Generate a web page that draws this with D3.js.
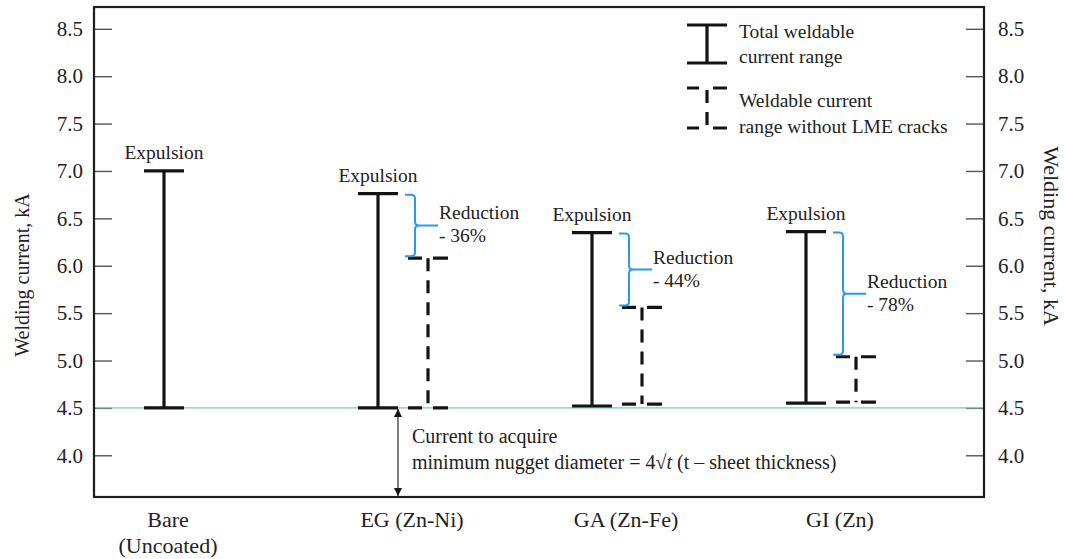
<!DOCTYPE html>
<html>
<head>
<meta charset="utf-8">
<script src="https://cdn.jsdelivr.net/npm/d3@7"></script>
<style>
  html, body { margin: 0; padding: 0; background: #fff; }
  svg { display: block; font-family: "Liberation Serif", "Times New Roman", serif; }
</style>
</head>
<body>
<svg id="chart" width="1065" height="559"></svg>
<script>
// Coating types and their labels under the axis
const categories = ["Bare", "EG", "GA", "GI"];
const categoryLabels = [["Bare", "(Uncoated)"], ["EG (Zn-Ni)"], ["GA (Zn-Fe)"], ["GI (Zn)"]];

// Total weldable current range (kA)
const totalLow  = [4.5, 4.5, 4.52, 4.55];
const totalHigh = [7.0, 6.76, 6.35, 6.36];

// Weldable current range without LME cracks (kA)
const lmeLow  = [null, 4.5, 4.54, 4.56];
const lmeHigh = [null, 6.08, 5.56, 5.04];

// Reduction of the range caused by LME (%)
const reductionPct = [null, 36, 44, 78];

// Current needed for the minimum nugget diameter (kA)
const minNuggetCurrent = 4.5;

const yTicks = [4.0, 4.5, 5.0, 5.5, 6.0, 6.5, 7.0, 7.5, 8.0, 8.5];

const svg = d3.select("#chart");
const frame = { left: 94, right: 984, top: 7, bottom: 497 };
const ink = "#141414";
const textColor = "#222";
const blue = "#2b9be8";

const y = d3.scaleLinear().domain([3.56, 8.73]).range([frame.bottom, frame.top]);
const x = d3.scalePoint().domain(categories).range([164, 806]);
const pairOffset = 50;   // horizontal gap between the two range bars of a coating
const capHalf = 20;

// axes with inward ticks
const fmt = d3.format(".1f");
const leftAxis = svg.append("g")
  .attr("transform", `translate(${frame.left},0)`)
  .call(d3.axisLeft(y).tickValues(yTicks).tickSize(-18).tickPadding(11).tickFormat(fmt));
const rightAxis = svg.append("g")
  .attr("transform", `translate(${frame.right},0)`)
  .call(d3.axisRight(y).tickValues(yTicks).tickSize(-18).tickPadding(14).tickFormat(fmt));
[leftAxis, rightAxis].forEach(g => {
  g.select(".domain").remove();
  g.selectAll(".tick line").attr("stroke", "#555").attr("stroke-width", 1.4);
  g.selectAll(".tick text")
    .attr("fill", textColor)
    .style("font-family", '"Liberation Serif", "Times New Roman", serif')
    .style("font-size", "21px");
});

// axis titles
svg.append("text")
  .attr("transform", `translate(29,${275}) rotate(-90)`)
  .attr("text-anchor", "middle")
  .attr("fill", textColor)
  .style("font-size", "20px")
  .text("Welding current, kA");
svg.append("text")
  .attr("transform", `translate(1044,${236}) rotate(90)`)
  .attr("text-anchor", "middle")
  .attr("fill", textColor)
  .style("font-size", "22px")
  .text("Welding current, kA");

// minimum nugget current reference line
svg.append("line")
  .attr("x1", frame.left).attr("x2", frame.right)
  .attr("y1", y(minNuggetCurrent)).attr("y2", y(minNuggetCurrent))
  .attr("stroke", "#7cc0ec").attr("stroke-width", 1.3);

// plot frame
svg.append("rect")
  .attr("x", frame.left).attr("y", frame.top)
  .attr("width", frame.right - frame.left).attr("height", frame.bottom - frame.top)
  .attr("fill", "none").attr("stroke", "#1c1c1c").attr("stroke-width", 2.2);

// I-shaped range bar, solid or dashed
function rangeBar(g, cx, lo, hi, dashed) {
  const bar = g.append("g").attr("stroke", ink).attr("stroke-width", 3.2).attr("fill", "none");
  bar.append("line")
    .attr("x1", cx).attr("x2", cx).attr("y1", y(hi)).attr("y2", y(lo))
    .attr("stroke-dasharray", dashed ? "13,9" : null);
  [hi, lo].forEach(v => {
    bar.append("line")
      .attr("x1", cx - capHalf).attr("x2", cx + capHalf)
      .attr("y1", y(v)).attr("y2", y(v))
      .attr("stroke-dasharray", dashed ? "14,11,15" : null);
  });
}

const bars = svg.append("g");
categories.forEach((c, i) => {
  const cx = x(c);
  rangeBar(bars, cx, totalLow[i], totalHigh[i], false);
  svg.append("text")
    .attr("x", cx).attr("y", y(totalHigh[i]) - 12)
    .attr("text-anchor", "middle").attr("fill", textColor)
    .style("font-size", "19.5px")
    .text("Expulsion");

  if (lmeHigh[i] != null) {
    const dx = cx + pairOffset;
    rangeBar(bars, dx, lmeLow[i], lmeHigh[i], true);

    // brace spanning the lost part of the range
    const y1 = y(totalHigh[i]) + 1, y2 = y(lmeHigh[i]) - 2, ym = (y1 + y2) / 2;
    const tip = dx - 23, vx = dx - 13, end = dx + 10, r = 4;
    const p = d3.path();
    p.moveTo(tip, y1);
    p.lineTo(vx - r, y1);
    p.quadraticCurveTo(vx, y1, vx, y1 + r);
    p.lineTo(vx, ym - r);
    p.quadraticCurveTo(vx, ym, vx + r, ym);
    p.lineTo(end, ym);
    p.moveTo(vx + r, ym);
    p.quadraticCurveTo(vx, ym, vx, ym + r);
    p.lineTo(vx, y2 - r);
    p.quadraticCurveTo(vx, y2, vx - r, y2);
    p.lineTo(tip, y2);
    svg.append("path").attr("d", p.toString())
      .attr("fill", "none").attr("stroke", blue).attr("stroke-width", 2);

    const t = svg.append("text").attr("fill", textColor).style("font-size", "19.5px");
    t.append("tspan").attr("x", end + 1).attr("y", ym - 6).text("Reduction");
    t.append("tspan").attr("x", end + 1).attr("y", ym + 17).text(`- ${reductionPct[i]}%`);
  }

  // category label
  const lx = lmeHigh[i] != null ? cx + pairOffset * 0.68 : cx + 4;
  const lt = svg.append("text").attr("text-anchor", "middle").attr("fill", textColor)
    .style("font-size", "22px");
  categoryLabels[i].forEach((s, k) => {
    lt.append("tspan").attr("x", lx).attr("y", 527 + k * 26).text(s);
  });
});

// double arrow from the axis floor up to the minimum nugget current
const defs = svg.append("defs");
defs.append("marker")
  .attr("id", "head").attr("viewBox", "0 0 10 10")
  .attr("refX", 10).attr("refY", 5)
  .attr("markerWidth", 8).attr("markerHeight", 8)
  .attr("markerUnits", "userSpaceOnUse")
  .attr("orient", "auto-start-reverse")
  .append("path").attr("d", "M0,0 L10,5 L0,10 z").attr("fill", ink);

const arrowX = x("EG") + 20;
svg.append("line")
  .attr("x1", arrowX).attr("x2", arrowX)
  .attr("y1", y(minNuggetCurrent) + 1).attr("y2", frame.bottom - 1)
  .attr("stroke", ink).attr("stroke-width", 1.1)
  .attr("marker-start", "url(#head)").attr("marker-end", "url(#head)");

const note = svg.append("text").attr("fill", textColor).style("font-size", "20px");
note.append("tspan").attr("x", arrowX + 14).attr("y", 443).text("Current to acquire");
const line2 = note.append("tspan").attr("x", arrowX + 14).attr("y", 469);
line2.append("tspan").text("minimum nugget diameter = 4\u221A");
line2.append("tspan").style("font-style", "italic").text("t");
line2.append("tspan").text(" (t \u2013 sheet thickness)");

// legend
const legend = svg.append("g");
const lgX = 707;
function legendBar(top, bottom, dashed) {
  const g = legend.append("g").attr("stroke", ink).attr("stroke-width", 3.2);
  g.append("line").attr("x1", lgX).attr("x2", lgX).attr("y1", top).attr("y2", bottom)
    .attr("stroke-dasharray", dashed ? "13,9" : null)
    .attr("stroke-dashoffset", dashed ? -2 : null);
  [top, bottom].forEach(v => g.append("line")
    .attr("x1", lgX - capHalf).attr("x2", lgX + capHalf).attr("y1", v).attr("y2", v)
    .attr("stroke-dasharray", dashed ? "12,14,14" : null));
}
legendBar(25, 63, false);
legendBar(88, 128, true);
const lt1 = legend.append("text").attr("fill", textColor).style("font-size", "19.5px");
lt1.append("tspan").attr("x", 739).attr("y", 38).text("Total weldable");
lt1.append("tspan").attr("x", 739).attr("y", 63).text("current range");
const lt2 = legend.append("text").attr("fill", textColor).style("font-size", "19.5px");
lt2.append("tspan").attr("x", 739).attr("y", 107).text("Weldable current");
lt2.append("tspan").attr("x", 739).attr("y", 133).text("range without LME cracks");
</script>
</body>
</html>
